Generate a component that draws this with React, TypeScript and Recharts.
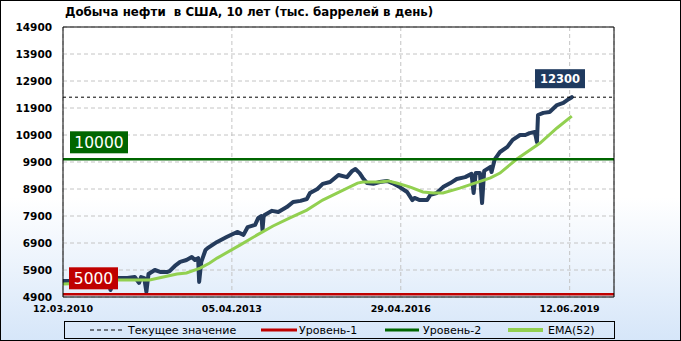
import React from 'react';
import { LineChart, Line, XAxis, YAxis, CartesianGrid, ReferenceLine } from 'recharts';

const FONT = '"DejaVu Sans", Verdana, sans-serif';

// weeks counted from 12.03.2010
const weeks = [0, 11, 26, 35, 43, 45, 48, 52, 61, 68, 72, 74, 77, 79, 81, 87, 92, 99, 101, 106, 111, 117, 122, 125, 128, 129, 131, 135, 137, 146, 155, 165, 171, 175, 182, 185, 188, 189, 190, 191, 198, 204, 212, 218, 225, 231, 234, 241, 246, 253, 261, 269, 274, 277, 281, 284, 288, 294, 300, 307, 312, 319, 326, 331, 333, 338, 345, 348, 354, 360, 367, 373, 381, 387, 389, 391, 395, 397, 399, 405, 406, 409, 414, 421, 426, 433, 438, 442, 447, 449, 450, 455, 461, 468, 474, 478, 482];
const output = [5490, 5500, 5530, 5490, 5420, 5160, 5460, 5600, 5600, 5640, 5420, 5640, 5600, 5090, 5750, 5900, 5830, 5830, 5860, 6050, 6200, 6270, 6380, 6270, 6340, 5460, 6200, 6640, 6710, 6940, 7120, 7310, 7200, 7490, 7570, 7830, 7900, 7380, 7860, 7940, 8090, 8050, 8230, 8420, 8460, 8530, 8750, 8900, 9090, 9160, 9420, 9340, 9570, 9640, 9490, 9310, 9120, 9090, 9160, 9200, 9120, 8970, 8790, 8490, 8570, 8490, 8490, 8680, 8750, 8970, 9120, 9270, 9340, 9460, 8750, 9490, 9490, 8380, 9570, 9720, 9530, 10000, 10270, 10460, 10720, 10900, 10900, 10970, 11010, 10640, 11640, 11720, 11750, 12010, 12090, 12200, 12300];

const emaWeeks = [0, 26, 52, 82, 95, 108, 117, 130, 139, 146, 168, 184, 199, 215, 231, 246, 262, 279, 284, 300, 308, 316, 329, 341, 351, 360, 376, 388, 405, 414, 430, 452, 468, 482];
const ema = [5380, 5420, 5530, 5530, 5640, 5750, 5790, 5970, 6160, 6340, 6830, 7200, 7530, 7830, 8120, 8490, 8790, 9120, 9160, 9160, 9200, 9120, 8970, 8790, 8750, 8750, 8930, 9090, 9310, 9490, 10010, 10600, 11160, 11600];

const tickWeeks = [0, 160, 320, 480];
const tickLabels = ['12.03.2010', '05.04.2013', '29.04.2016', '12.06.2019'];
const yTicks = [4900, 5900, 6900, 7900, 8900, 9900, 10900, 11900, 12900, 13900, 14900];

const current = 12300;
const level1 = 5000;
const level2 = 10000;
const legendLabels = ['Текущее значение', 'Уровень-1', 'Уровень-2', 'EMA(52)'];

const mainData = weeks.map((w, i) => ({ w, v: output[i] }));
const emaData = emaWeeks.map((w, i) => ({ w, v: ema[i] }));

function boxLabel(text: string, fill: string, dx: number, w: number, h: number, gap: number, fontSize: number, bold: boolean, fromRight = false) {
  return (props: any) => {
    const vb = props.viewBox || {};
    const x = fromRight ? vb.x + vb.width - dx : vb.x + dx;
    const y = vb.y - gap - h;
    return (
      <g>
        <rect x={x} y={y} width={w} height={h} fill={fill} />
        <text x={x + w / 2} y={y + h / 2} dy="0.36em" textAnchor="middle" fill="#fff"
          fontFamily={FONT} fontSize={fontSize} fontWeight={bold ? 'bold' : 'normal'}>{text}</text>
      </g>
    );
  };
}

const tickStyle = { fontSize: 10.5, fontWeight: 'bold', fill: '#000', fontFamily: FONT };

function Legend() {
  return (
    <div style={{ position: 'absolute', left: 63, top: 320, width: 551, height: 18, border: '1px solid #000', boxSizing: 'border-box' }}>
      <svg width={549} height={16} style={{ position: 'absolute', left: 0, top: 0 }}>
        <g fontFamily={FONT} fontSize={11} fill="#000">
          <line x1={25} x2={57} y1={8} y2={8} stroke="#000" strokeDasharray="4 3" />
          <text x={63} y={12}>{legendLabels[0]}</text>
          <line x1={196} x2={232} y1={8} y2={8} stroke="#c00000" strokeWidth={3} />
          <text x={234} y={12}>{legendLabels[1]}</text>
          <line x1={320} x2={354} y1={8} y2={8} stroke="#006600" strokeWidth={3} />
          <text x={358} y={12}>{legendLabels[2]}</text>
          <line x1={443} x2={478} y1={8} y2={8} stroke="#92d050" strokeWidth={4} />
          <text x={483} y={12}>{legendLabels[3]}</text>
        </g>
      </svg>
    </div>
  );
}

export default function App() {
  return (
    <div style={{ position: 'absolute', left: 0, top: 0, width: 681, height: 341, border: '1px solid #000', boxSizing: 'border-box',
      background: 'linear-gradient(to bottom, #ffffff 0%, #ffffff 58%, #d6e6f9 100%)', fontFamily: FONT }}>
      <div style={{ position: 'absolute', left: 64, top: 4, fontSize: 11.8, fontWeight: 'bold', whiteSpace: 'pre', color: '#000' }}>
        {'Добыча нефти  в США, 10 лет (тыс. баррелей в день)'}
      </div>
      <LineChart width={681} height={341} margin={{ top: 27, right: 0, bottom: 0, left: 0 }}
        style={{ position: 'absolute', left: -1, top: -1 }}>
        <CartesianGrid yAxisId="left" stroke="#c4c4c4" strokeDasharray="4 3" />
        <XAxis dataKey="w" type="number" domain={[0, 522]} ticks={tickWeeks} interval={0}
          tickFormatter={(v: number) => tickLabels[tickWeeks.indexOf(v)]} height={44} tickSize={0} tickMargin={8}
          axisLine={{ stroke: '#000' }} tick={{ ...tickStyle, fontSize: 9.5 }} allowDataOverflow />
        <YAxis yAxisId="left" domain={[4900, 14900]} ticks={yTicks} interval={0} width={63} tickSize={0} tickMargin={11}
          axisLine={{ stroke: '#000' }} tick={tickStyle} />
        <YAxis yAxisId="right" orientation="right" domain={[4900, 14900]} ticks={yTicks} interval={0} width={67} tickSize={0}
          tickMargin={12} axisLine={{ stroke: '#000' }} tick={{ ...tickStyle, textAnchor: 'start' }} />
        <Line data={mainData} dataKey="v" yAxisId="left" type="linear" stroke="#243b5c" strokeWidth={4} dot={false}
          strokeLinejoin="round" strokeLinecap="round" isAnimationActive={false} />
        <Line data={emaData} dataKey="v" yAxisId="left" type="linear" stroke="#92d050" strokeWidth={3} dot={false}
          isAnimationActive={false} />
        <ReferenceLine yAxisId="left" y={14900} stroke="#000" />
        <ReferenceLine yAxisId="left" y={current} stroke="#000" strokeDasharray="3 3"
          label={boxLabel(String(current), '#1f3a5f', 79, 50, 19, 9, 11.5, true, true)} />
        <ReferenceLine yAxisId="left" y={level2} stroke="#006600" strokeWidth={2.5}
          label={boxLabel(String(level2), '#006600', 7, 58, 22, 6, 15.5, false)} />
        <ReferenceLine yAxisId="left" y={level1} stroke="#c00000" strokeWidth={2.5}
          label={boxLabel(String(level1), '#c00000', 6, 49, 22, 5, 15.5, false)} />
      </LineChart>
      <Legend />
    </div>
  );
}
